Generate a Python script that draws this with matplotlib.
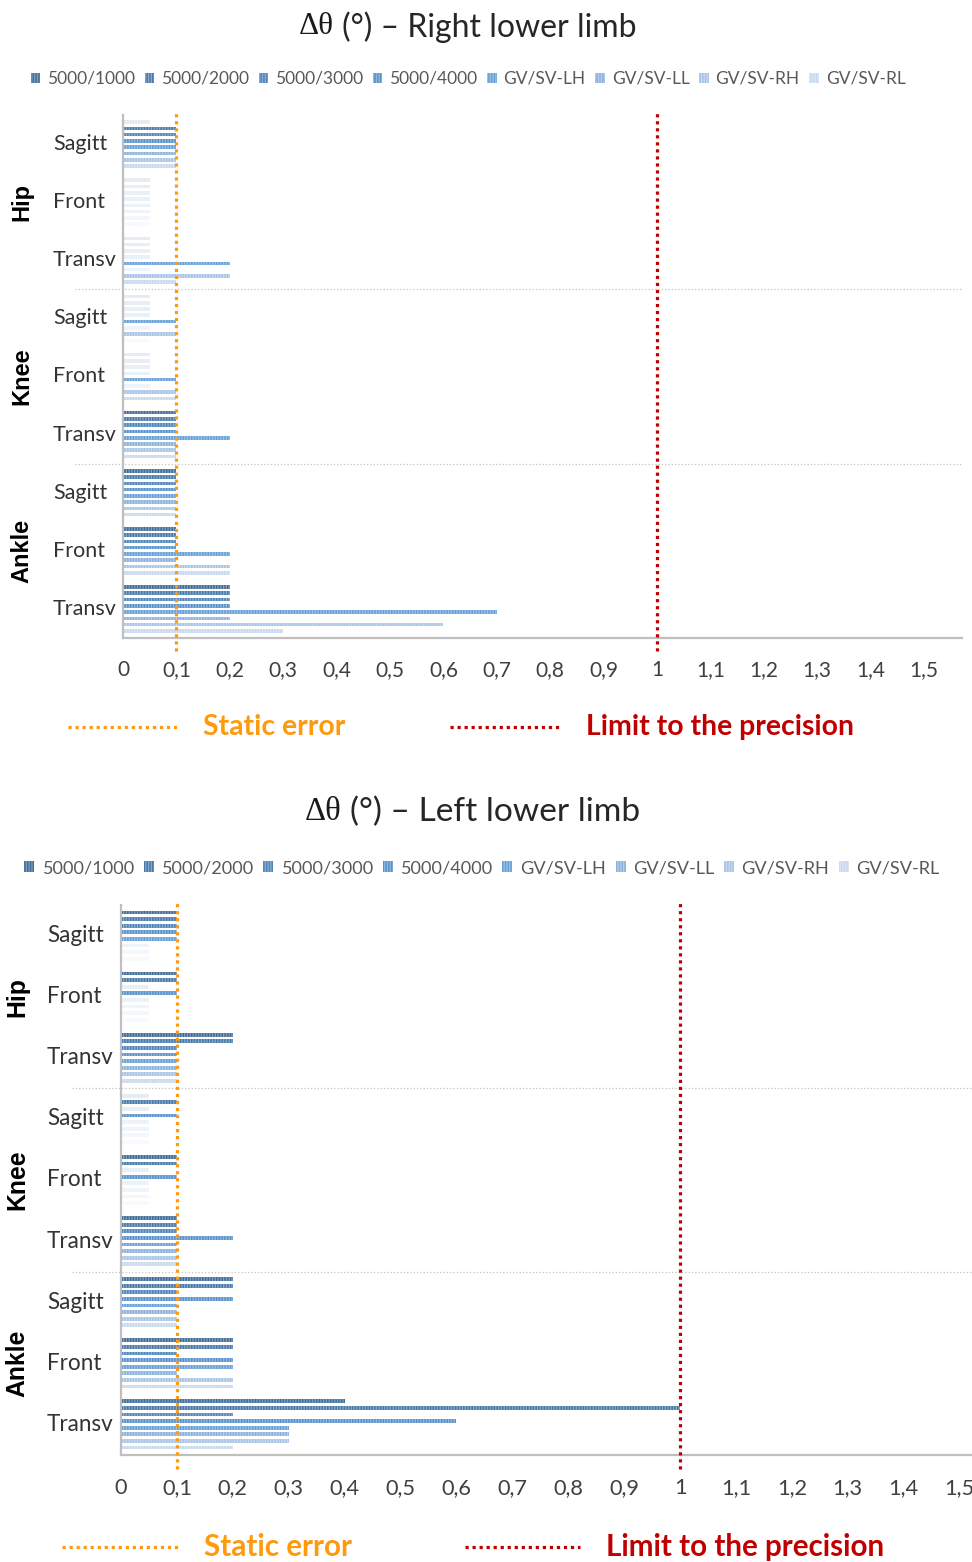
import matplotlib.pyplot as plt
import matplotlib.colors as mcolors
import matplotlib.transforms as mtransforms
from matplotlib.lines import Line2D
from matplotlib.patches import Patch
import numpy as np

plt.rcParams['font.family'] = ['Lato', 'DejaVu Sans']
plt.rcParams['hatch.linewidth'] = 0.9

W, H = 972, 1562

series_names = ["5000/1000", "5000/2000", "5000/3000", "5000/4000",
                "GV/SV-LH", "GV/SV-LL", "GV/SV-RH", "GV/SV-RL"]
series_colors = ["#3f6d9b", "#4879ab", "#4f85bd", "#5892cc",
                 "#67a0d8", "#8ab2df", "#a8c4e6", "#c8d9ef"]
joints = ["Hip", "Knee", "Ankle"]
planes = ["Sagitt", "Front", "Transv"]
x_ticks = [0, 0.1, 0.2, 0.3, 0.4, 0.5, 0.6, 0.7, 0.8, 0.9, 1.0, 1.1, 1.2, 1.3, 1.4, 1.5]
static_error = 0.1
precision_limit = 1.0

# rows: Hip Sagitt/Front/Transv, Knee ..., Ankle ... ; columns follow series_names
right_limb = np.array([
    [0.05, 0.1, 0.1, 0.1, 0.1, 0.1, 0.1, 0.1],
    [0.05, 0.05, 0.05, 0.05, 0.05, 0.05, 0.05, 0.05],
    [0.05, 0.05, 0.05, 0.05, 0.2, 0.05, 0.2, 0.1],
    [0.05, 0.05, 0.05, 0.05, 0.1, 0.05, 0.1, 0.05],
    [0.05, 0.05, 0.05, 0.05, 0.1, 0.05, 0.1, 0.1],
    [0.1, 0.1, 0.1, 0.1, 0.2, 0.1, 0.1, 0.1],
    [0.1, 0.1, 0.1, 0.1, 0.1, 0.1, 0.1, 0.1],
    [0.1, 0.1, 0.1, 0.1, 0.2, 0.1, 0.2, 0.2],
    [0.2, 0.2, 0.2, 0.2, 0.7, 0.2, 0.6, 0.3],
])
left_limb = np.array([
    [0.1, 0.1, 0.1, 0.1, 0.1, 0.05, 0.05, 0.05],
    [0.1, 0.1, 0.05, 0.1, 0.05, 0.05, 0.05, 0.05],
    [0.2, 0.2, 0.1, 0.1, 0.1, 0.1, 0.1, 0.1],
    [0.05, 0.1, 0.05, 0.1, 0.05, 0.05, 0.05, 0.05],
    [0.1, 0.1, 0.05, 0.1, 0.05, 0.05, 0.05, 0.05],
    [0.1, 0.1, 0.1, 0.2, 0.1, 0.1, 0.1, 0.1],
    [0.2, 0.2, 0.1, 0.2, 0.1, 0.1, 0.1, 0.1],
    [0.2, 0.2, 0.1, 0.2, 0.2, 0.1, 0.2, 0.2],
    [0.4, 1.0, 0.2, 0.6, 0.3, 0.3, 0.3, 0.2],
])

ORANGE = "#ff9a0f"
RED = "#c00000"
GRID = "#c4c4c4"
DOTS = (0, (1, 1.2))


def lighten(c, amount):
    r, g, b = mcolors.to_rgb(c)
    return (r + (1 - r) * amount, g + (1 - g) * amount, b + (1 - b) * amount)


def fx(x):
    return x / W


def fy(y):
    return 1 - y / H


def draw_panel(fig, rect, values, title, xmax, s, title_x, legend_y, key_y, key_x, label_x):
    ax = fig.add_axes(rect)
    n_cat, n_ser = values.shape
    step = 0.108
    for j in range(n_ser):
        y = np.arange(n_cat) + (j - (n_ser - 1) / 2) * step
        # bars under the static error are drawn faded
        faces = [lighten(series_colors[j], 0.85) if v < static_error else series_colors[j]
                 for v in values[:, j]]
        hatch_cols = [lighten(series_colors[j], 0.9) if v < static_error
                      else lighten(series_colors[j], 0.35) for v in values[:, j]]
        ax.barh(y, values[:, j], height=0.062, color=faces, edgecolor=hatch_cols,
                hatch="||||||", linewidth=0, zorder=2)

    ax.set_xlim(0, xmax)
    ax.set_ylim(n_cat - 0.5, -0.5)
    ax.set_xticks(x_ticks)
    ax.set_xticklabels([f"{t:g}".replace(".", ",") for t in x_ticks])
    ax.set_yticks(range(n_cat))
    ax.set_yticklabels([])
    ax.tick_params(axis="x", length=0, pad=16 * s, labelsize=15 * s, labelcolor="#404040")
    ax.tick_params(axis="y", length=0)
    for side in ("top", "right"):
        ax.spines[side].set_visible(False)
    for side in ("left", "bottom"):
        ax.spines[side].set_color("#bfbfbf")
        ax.spines[side].set_linewidth(1.6)

    blend = mtransforms.blended_transform_factory(ax.transAxes, ax.transData)
    # plane labels sit left-aligned like a multi-level category axis
    for i in range(n_cat):
        ax.text(label_x, i, planes[i % 3], transform=blend, ha="left", va="center",
                fontsize=15.5 * s, color="#333333")
    for k in range(1, len(joints)):
        ax.plot([-0.057, 1], [3 * k - 0.5] * 2, transform=blend, clip_on=False,
                color=GRID, lw=0.9, ls=":", zorder=1)
    for k, joint in enumerate(joints):
        ax.text(-0.121, 3 * k + 1, joint, transform=blend, rotation=90, ha="center",
                va="center", fontsize=17 * s, fontweight="bold",
                family="Liberation Sans", color="black")

    ax.axvline(static_error, ymin=-0.025, ymax=1.005, color=ORANGE, lw=2.3,
               ls=DOTS, dash_capstyle="butt", clip_on=False, zorder=3)
    ax.axvline(precision_limit, ymin=-0.025, ymax=1.005, color=RED, lw=2.3,
               ls=DOTS, dash_capstyle="butt", clip_on=False, zorder=3)

    # title: serif delta-theta followed by the rest in sans
    fig.text(fx(title_x), title[2], "Δθ", family="Liberation Serif",
             fontsize=22.5 * s, ha="left", va="center", color="#1a1a1a")
    fig.text(fx(title_x + 43 * s), title[2], title[0], fontsize=23 * s,
             ha="left", va="center", color="#262626")

    handles = [Patch(facecolor=c, edgecolor=lighten(c, 0.35), hatch="||||||", linewidth=0)
               for c in series_colors]
    fig.legend(handles, series_names, loc="center", bbox_to_anchor=(title[1], legend_y),
               ncol=8, frameon=False, fontsize=12.5 * s, labelcolor="#595959",
               handlelength=0.55, handleheight=0.55, handletextpad=0.4,
               columnspacing=0.55, borderpad=0)

    # reference line key under the axis
    for x0, x1, tx, label, col in ((key_x[0], key_x[1], key_x[2], "Static error", ORANGE),
                                   (key_x[3], key_x[4], key_x[5], "Limit to the precision", RED)):
        fig.add_artist(Line2D([fx(x0), fx(x1)], [key_y, key_y], transform=fig.transFigure,
                              color=col, lw=2.3, ls=DOTS, dash_capstyle="butt"))
        fig.text(fx(tx), key_y, label, color=col, fontsize=20.4 * s, fontweight="bold",
                 ha="left", va="center")
    return ax


fig = plt.figure(figsize=(W / 100, H / 100), dpi=100)

draw_panel(fig, [fx(123), fy(638), fx(839), (638 - 115) / H], right_limb,
           ("(°) – Right lower limb", fx(468), fy(27)), 839 / 534, 1.0, 299,
           fy(79), fy(727), (68, 178, 203, 450, 560, 586), (53 - 123) / 839)
draw_panel(fig, [fx(121), fy(1455), fx(859), (1455 - 905) / H], left_limb,
           ("(°) – Left lower limb", fx(482), fy(812)), 859 / 559, 1.047, 305,
           fy(868), fy(1547), (62, 178, 204, 465, 580, 606), (47 - 121) / 859)

fig.savefig("out.png", dpi=100)
